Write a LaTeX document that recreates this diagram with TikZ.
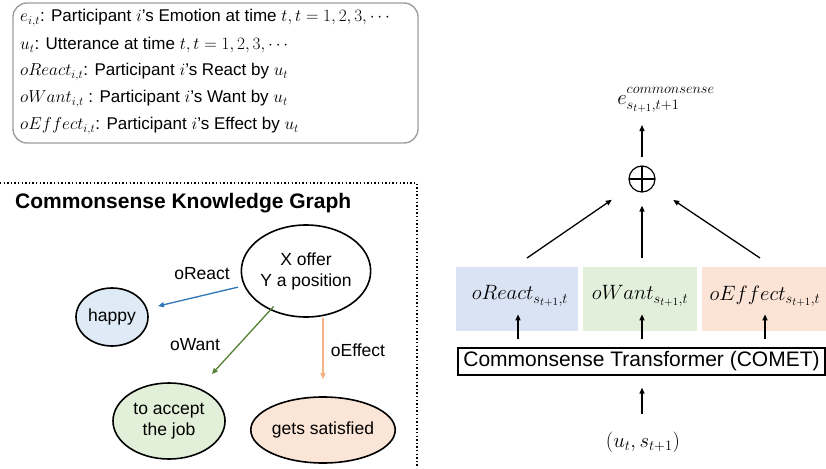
\documentclass[tikz,border=0pt]{standalone}
\usepackage[no-math]{fontspec}
\setmainfont{Liberation Sans}
\usetikzlibrary{arrows.meta,shapes.geometric,calc}
\definecolor{reactc}{HTML}{2E75B6}
\definecolor{wantc}{HTML}{548235}
\definecolor{effectc}{HTML}{F4B183}
\definecolor{happyfill}{HTML}{DEEBF7}
\definecolor{acceptfill}{HTML}{E2F0D9}
\definecolor{satfill}{HTML}{FBE5D6}
\definecolor{rbfill}{HTML}{DAE3F3}
\definecolor{gbfill}{HTML}{E2EFDA}
\definecolor{obfill}{HTML}{FBE3D6}
\newcommand{\mth}[1]{{\fontsize{18.5}{20}\selectfont$#1$}}
\tikzset{
  bodytext/.style={font=\fontsize{17}{20}\selectfont, inner sep=0pt},
  ell/.style={ellipse, draw=black, line width=1.6pt, align=center, inner sep=0pt, font=\fontsize{17.5}{21}\selectfont},
  edgelabel/.style={font=\fontsize{17.5}{21}\selectfont, inner sep=0pt},
  garr/.style={line width=1.3pt, -{Triangle[length=6pt,width=5pt]}},
  karr/.style={line width=1.3pt, black, -{Triangle[length=6pt,width=5pt]}},
  mlabel/.style={font=\fontsize{21.5}{24}\selectfont, inner sep=0pt},
  cbox/.style={draw=none, minimum height=64pt, inner sep=0pt}
}
\begin{document}
\begin{tikzpicture}[x=1pt,y=-1pt]
\useasboundingbox (0,0) rectangle (826,468);
% legend box
\draw[rounded corners=14pt, draw=black!38, line width=1.4pt] (13,3) rectangle (418,143);
\node[bodytext, anchor=west] (l1) at (20,18) {\mth{e_{i,t}}: Participant \mth{i}'s Emotion at time \mth{t, t=1,2,3,\cdots}};
\node[bodytext, anchor=west] (l2) at (20,45) {\mth{u_t}: Utterance at time \mth{t, t=1,2,3,\cdots}};
\node[bodytext, anchor=west] (l3) at (20,72) {\mth{oReact_{i,t}}: Participant \mth{i}'s React by \mth{u_t}};
\node[bodytext, anchor=west] (l4) at (20,99) {\mth{oWant_{i,t}} : Participant \mth{i}'s Want by \mth{u_t}};
\node[bodytext, anchor=west] (l5) at (20,126) {\mth{oEffect_{i,t}}: Participant \mth{i}'s Effect by \mth{u_t}};
% dotted frame
\draw[line width=1.3pt, dash pattern=on 1.4pt off 2.2pt] (0,183) -- (417,183) -- (417,468);
\node[anchor=west, inner sep=0pt, font=\bfseries\fontsize{21}{24}\selectfont] (title) at (15,203) {Commonsense Knowledge Graph};
% graph
\node[ell, minimum width=108pt, minimum height=92pt] (xo) at (306,271) {X offer\\Y a position};
\node[ell, fill=happyfill, minimum width=72pt, minimum height=58pt] (happy) at (112,317) {happy};
\node[ell, fill=acceptfill, minimum width=112pt, minimum height=76pt] (accept) at (169,421) {to accept\\the job};
\node[ell, fill=satfill, minimum width=114pt, minimum height=66pt] (sat) at (323,430) {gets satisfied};
\draw[garr, reactc, shorten <=6pt, shorten >=11pt] (xo) -- (happy);
\draw[garr, wantc, shorten <=-5pt, shorten >=19pt] (xo) -- (accept);
\draw[garr, effectc, shorten >=17pt] (sat.north |- xo.south) -- (sat.north);
\node[edgelabel] (lreact) at (202,274) {oReact};
\node[edgelabel] (lwant) at (195,345) {oWant};
\node[edgelabel] (leffect) at (358,350) {oEffect};
% right side
\node[cbox, fill=rbfill, minimum width=122pt] (rb) at (517,299) {};
\node[cbox, fill=gbfill, minimum width=114pt] (gb) at (640,299) {};
\node[cbox, fill=obfill, minimum width=124pt] (ob) at (764,299) {};
\node[mlabel] (rl) at (520,296) {$oReact_{s_{t+1},t}$};
\node[mlabel] (wl) at (640,296) {$oWant_{s_{t+1},t}$};
\node[mlabel] (el) at (765,296) {$oEffect_{s_{t+1},t}$};
\node[draw, line width=1.3pt, minimum width=367pt, minimum height=27pt, inner sep=0pt, font=\fontsize{21}{24}\selectfont] (comet) at (641.5,361.5) {Commonsense Transformer (COMET)};
\node[mlabel] (inp) at (643,442) {$(u_t, s_{t+1})$};
\node[circle, draw, line width=1.2pt, minimum size=26pt, inner sep=0pt,
  path picture={\draw[line width=1.1pt] (path picture bounding box.north) -- (path picture bounding box.south) (path picture bounding box.west) -- (path picture bounding box.east);}] (plus) at (642,179) {};
\node[mlabel] (eout) at (666,100) {$e^{\raisebox{3pt}{$\scriptstyle commonsense$}}_{s_{t+1},t+1}$};
\coordinate (rs) at (527,258);
\coordinate (ws) at (642,258);
\coordinate (es) at (760,258);
\draw[karr, shorten >=23pt] (rs) -- (plus);
\draw[karr, shorten >=13pt] (ws) -- (plus);
\draw[karr, shorten >=24pt] (es) -- (plus);
\draw[karr, shorten <=8pt] (plus.north) -- (642,125) coordinate (eend);
\draw[karr] ([yshift=8pt]comet.north -| 518,0) -- ([yshift=33pt]comet.north -| 518,0);
\draw[karr] ([yshift=8pt]comet.north -| 642,0) -- ([yshift=33pt]comet.north -| 642,0);
\draw[karr] ([yshift=8pt]comet.north -| 765,0) -- ([yshift=33pt]comet.north -| 765,0);
\draw[karr] ([yshift=-38pt]comet.south -| 642,0) -- ([yshift=-12pt]comet.south -| 642,0);
\end{tikzpicture}
\end{document}
